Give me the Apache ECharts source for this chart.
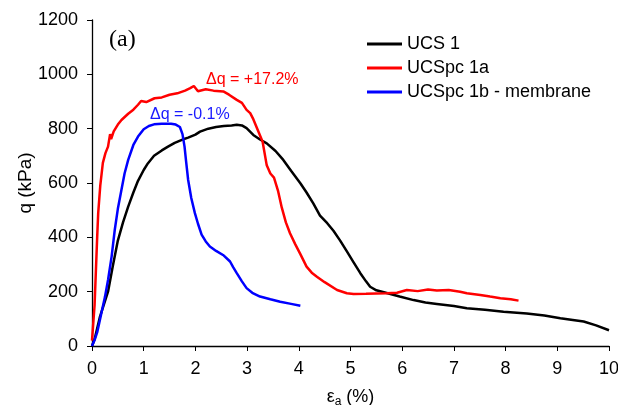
<!DOCTYPE html>
<html>
<head>
<meta charset="utf-8">
<script src="https://cdn.jsdelivr.net/npm/echarts@6/dist/echarts.min.js"></script>
<style>
  html, body { margin: 0; padding: 0; background: #fff; }
  #chart { width: 618px; height: 405px; }
</style>
</head>
<body>
<div id="chart"></div>
<script>
// strain (%) and deviator stress q (kPa)
var ucs1X = [0, 0.05, 0.15, 0.31, 0.4, 0.5, 0.6, 0.7, 0.8, 0.89, 1.0, 1.08, 1.2, 1.35, 1.47, 1.6, 1.75, 1.86, 2.0, 2.09, 2.25, 2.4, 2.55, 2.7, 2.8, 2.9, 2.99, 3.12, 3.25, 3.38, 3.55, 3.7, 3.85, 4.03, 4.15, 4.28, 4.41, 4.55, 4.67, 4.8, 4.93, 5.06, 5.19, 5.3, 5.38, 5.5, 5.7, 5.95, 6.22, 6.45, 6.67, 7.0, 7.25, 7.6, 7.96, 8.41, 8.75, 9.06, 9.3, 9.51, 9.75, 10.0];
var ucs1Y = [0, 25, 105, 200, 292, 388, 455, 513, 565, 608, 648, 672, 700, 720, 734, 748, 760, 767, 778, 789, 800, 806, 810, 812, 814, 812, 802, 777, 760, 746, 718, 685, 645, 599, 565, 525, 480, 452, 424, 388, 348, 308, 268, 238, 218, 205, 195, 182, 169, 160, 155, 147, 139, 133, 126, 120, 112, 102, 96, 90, 76, 58];

var pc1aX = [0, 0.05, 0.1, 0.12, 0.16, 0.21, 0.26, 0.31, 0.35, 0.37, 0.42, 0.5, 0.57, 0.7, 0.8, 0.89, 0.95, 1.05, 1.21, 1.35, 1.5, 1.65, 1.8, 1.9, 1.97, 2.05, 2.2, 2.35, 2.54, 2.65, 2.8, 2.9, 2.99, 3.06, 3.12, 3.22, 3.3, 3.38, 3.45, 3.52, 3.6, 3.67, 3.75, 3.83, 3.93, 4.03, 4.15, 4.25, 4.35, 4.5, 4.74, 4.93, 5.06, 5.3, 5.5, 5.7, 5.9, 6.09, 6.3, 6.5, 6.67, 6.9, 7.12, 7.25, 7.51, 7.7, 7.9, 8.1, 8.25];
var pc1aY = [20, 150, 400, 489, 590, 674, 710, 734, 780, 762, 790, 815, 832, 855, 870, 888, 902, 898, 912, 915, 925, 930, 940, 949, 957, 938, 945, 940, 937, 925, 906, 895, 869, 857, 835, 789, 752, 665, 635, 620, 570, 510, 455, 415, 375, 338, 292, 270, 255, 235, 206, 194, 191, 192, 193, 194, 196, 206, 202, 208, 204, 206, 200, 194, 188, 182, 176, 172, 167];

var pc1bX = [0, 0.05, 0.1, 0.18, 0.25, 0.31, 0.38, 0.44, 0.5, 0.57, 0.63, 0.7, 0.8, 0.89, 1.0, 1.1, 1.2, 1.35, 1.53, 1.62, 1.7, 1.75, 1.79, 1.82, 1.86, 1.92, 1.99, 2.05, 2.12, 2.2, 2.28, 2.4, 2.55, 2.67, 2.73, 2.8, 2.9, 2.99, 3.1, 3.25, 3.45, 3.64, 3.85, 4.03];
var pc1bY = [0, 22, 50, 120, 180, 243, 330, 427, 505, 575, 635, 685, 740, 771, 798, 810, 816, 818, 818, 815, 806, 780, 734, 680, 611, 545, 489, 450, 410, 385, 366, 350, 333, 311, 290, 268, 238, 213, 196, 182, 172, 163, 155, 148];

var seriesNames = ["UCS 1", "UCSpc 1a", "UCSpc 1b - membrane"];
var seriesColors = ["#000000", "#ff0000", "#0000ff"];

function zip(xs, ys) {
    var out = [];
    for (var i = 0; i < xs.length; i++) {
        out.push([xs[i], ys[i]]);
    }
    return out;
}

var chart = echarts.init(document.getElementById("chart"));
var font = "'Liberation Sans', Arial, sans-serif";

var lines = [zip(ucs1X, ucs1Y), zip(pc1aX, pc1aY), zip(pc1bX, pc1bY)].map(function (d, i) {
    return {
        name: seriesNames[i],
        type: "line",
        data: d,
        showSymbol: false,
        lineStyle: { width: 2.5, color: seriesColors[i] },
        itemStyle: { color: seriesColors[i] },
    };
});

chart.setOption({
    animation: false,
    textStyle: { fontFamily: font },
    // fixed plot box, don't let labels push it around
    grid: { left: 92, right: 9, top: 20, bottom: 59, outerBoundsMode: "none" },
    legend: {
        orient: "vertical",
        left: 367,
        top: 35,
        padding: 0,
        icon: "rect",
        itemWidth: 35,
        itemHeight: 3,
        itemGap: 6,
        textStyle: { fontSize: 18, color: "#000", fontFamily: font },
        data: seriesNames,
    },
    xAxis: {
        type: "value",
        min: 0,
        max: 10,
        interval: 1,
        name: "{e|ε}{s|a}{e| (%)}",
        nameLocation: "middle",
        nameGap: 40,
        nameTextStyle: {
            rich: {
                e: { fontSize: 18, color: "#000", fontFamily: font },
                s: { fontSize: 12, color: "#000", fontFamily: font, padding: [10, 0, 0, 0] },
            },
        },
        axisLine: { lineStyle: { color: "#000", width: 1.3 } },
        axisTick: { show: true, length: 5, lineStyle: { color: "#000" } },
        axisLabel: { fontSize: 18, color: "#000", margin: 14 },
        splitLine: { show: false },
    },
    yAxis: {
        type: "value",
        min: 0,
        max: 1200,
        interval: 200,
        axisLine: { show: true, lineStyle: { color: "#000", width: 1.3 } },
        axisTick: { show: true, length: 5, lineStyle: { color: "#000" } },
        axisLabel: {
            fontSize: 18,
            color: "#000",
            margin: 14,
            formatter: function (v) { return String(v); },
        },
        splitLine: { show: false },
    },
    graphic: [
        // y axis title, placed by hand
        { type: "text", x: 26, y: 183, rotation: Math.PI / 2, style: { text: "q (kPa)", fontSize: 19, fontFamily: font, fill: "#000", align: "center", verticalAlign: "middle" } },
        { type: "text", left: 109, top: 28, style: { text: "(a)", fontSize: 24, fontFamily: "'Liberation Serif', 'Times New Roman', serif", fill: "#000" } },
        { type: "text", left: 206, top: 72, style: { text: "Δq = +17.2%", fontSize: 16, fontFamily: font, fill: "#ff0000" } },
        { type: "text", left: 150, top: 107, style: { text: "Δq = -0.1%", fontSize: 16, fontFamily: font, fill: "#1a1aff" } },
    ],
    series: lines,
});
</script>
</body>
</html>
